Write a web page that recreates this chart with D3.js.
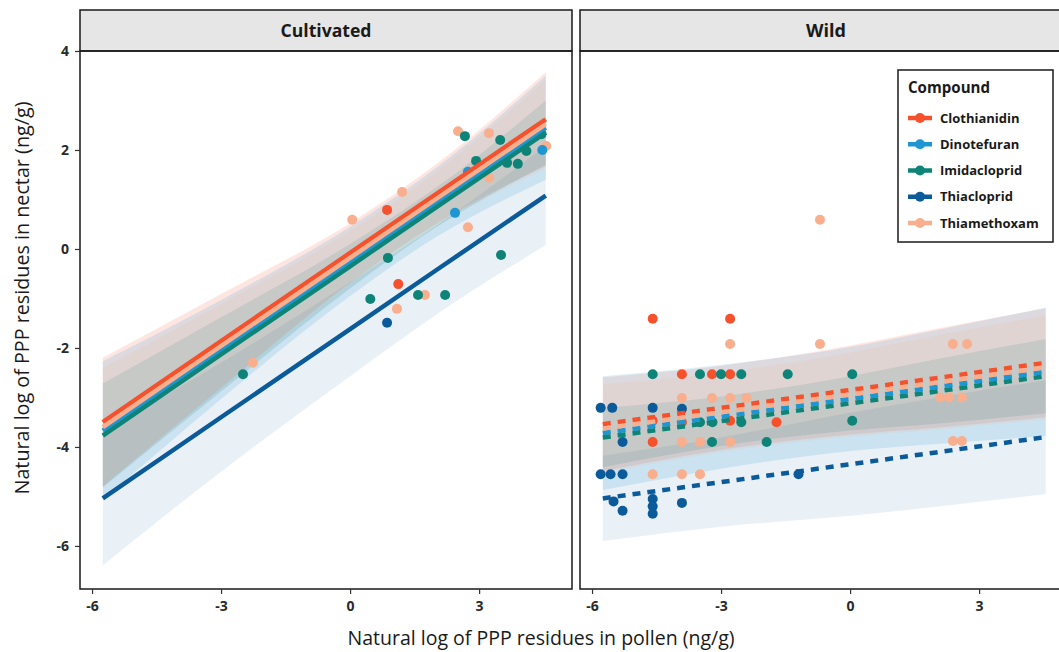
<!DOCTYPE html>
<html><head><meta charset="utf-8">
<script src="https://cdn.jsdelivr.net/npm/d3@7"></script>
<style>body{margin:0;background:#fff}svg{display:block}</style>
</head><body><svg id="c" width="1059" height="652"></svg>
<script>
const compounds = ["Clothianidin","Dinotefuran","Imidacloprid","Thiacloprid","Thiamethoxam"];
const colors = ["#F4512C","#1E96D3","#0E8479","#0B5A9A","#F9AE8E"];
const bandOpacity = [0.14,0.14,0.15,0.09,0.14];
const panels = ["Cultivated","Wild"];
const xTicks = [-6,-3,0,3];
const yTicks = [-6,-4,-2,0,2,4];
const fitX = [-5.75,-3,0,2,4.55];
// fitted values at fitX, compound order
const cultivatedFit = [
  [-3.50,-1.86,-0.08,1.11,2.62],
  [-3.67,-2.03,-0.25,0.94,2.45],
  [-3.77,-2.13,-0.35,0.84,2.35],
  [-5.04,-3.40,-1.62,-0.43,1.08],
  [-3.60,-1.96,-0.18,1.01,2.52]];
const cultivatedCI = [
  [1.30,0.95,0.60,0.60,0.95],
  [1.40,1.00,0.70,0.70,1.05],
  [1.05,0.75,0.45,0.40,0.65],
  [1.35,1.10,0.95,0.90,1.00],
  [1.20,0.85,0.55,0.55,0.90]];
const wildFit = [
  [-3.54,-3.21,-2.85,-2.61,-2.30],
  [-3.72,-3.39,-3.03,-2.79,-2.48],
  [-3.81,-3.48,-3.12,-2.88,-2.57],
  [-5.04,-4.71,-4.35,-4.11,-3.80],
  [-3.63,-3.30,-2.94,-2.70,-2.39]];
const wildCI = [
  [0.95,0.85,0.90,1.00,1.10],
  [1.15,1.05,1.05,1.15,1.30],
  [0.60,0.50,0.55,0.65,0.75],
  [0.86,0.90,1.04,1.10,1.15],
  [0.90,0.80,0.85,0.95,1.05]];
const cultivatedPoints = [
  ["Thiamethoxam",2.51,2.38],["Thiamethoxam",3.23,2.34],["Thiamethoxam",4.23,2.24],["Thiamethoxam",4.56,2.08],
  ["Thiamethoxam",2.74,0.44],["Thiamethoxam",3.23,1.44],["Thiamethoxam",1.21,1.15],["Thiamethoxam",0.05,0.59],
  ["Thiamethoxam",1.74,-0.93],["Thiamethoxam",1.09,-1.21],["Thiamethoxam",-2.26,-2.30],
  ["Imidacloprid",2.67,2.28],["Imidacloprid",3.49,2.20],["Imidacloprid",4.37,2.38],["Imidacloprid",4.45,2.32],
  ["Imidacloprid",4.10,1.98],["Imidacloprid",3.90,1.72],["Imidacloprid",3.65,1.74],["Imidacloprid",2.93,1.78],
  ["Imidacloprid",1.37,0.63],["Imidacloprid",0.74,0.20],["Imidacloprid",0.88,-0.18],["Imidacloprid",3.51,-0.12],
  ["Imidacloprid",1.58,-0.93],["Imidacloprid",2.21,-0.93],["Imidacloprid",0.47,-1.01],["Imidacloprid",-2.49,-2.53],
  ["Dinotefuran",4.07,2.20],["Dinotefuran",4.47,2.00],["Dinotefuran",3.56,1.92],["Dinotefuran",2.74,1.56],["Dinotefuran",2.44,0.73],
  ["Clothianidin",0.86,0.79],["Clothianidin",1.12,-0.71],
  ["Thiacloprid",0.86,-1.49],["Thiacloprid",-3.44,-2.30]];
const wildPoints = [
  ["Thiamethoxam",-0.70,0.59],["Thiamethoxam",-2.79,-1.92],["Thiamethoxam",-0.70,-1.92],["Thiamethoxam",2.39,-1.92],
  ["Thiamethoxam",2.72,-1.92],["Thiamethoxam",-3.91,-3.01],["Thiamethoxam",-3.21,-3.01],["Thiamethoxam",-2.79,-3.01],
  ["Thiamethoxam",-2.41,-3.01],["Thiamethoxam",2.10,-3.00],["Thiamethoxam",2.30,-3.00],["Thiamethoxam",2.60,-3.00],
  ["Thiamethoxam",-3.91,-3.90],["Thiamethoxam",-3.49,-3.90],["Thiamethoxam",-2.79,-3.90],["Thiamethoxam",-4.59,-4.55],
  ["Thiamethoxam",-3.91,-4.55],["Thiamethoxam",-3.49,-4.55],["Thiamethoxam",2.39,-3.88],["Thiamethoxam",2.60,-3.88],
  ["Clothianidin",-4.59,-1.41],["Clothianidin",-2.79,-1.41],["Clothianidin",-3.91,-2.53],["Clothianidin",-3.21,-2.53],
  ["Clothianidin",-2.79,-2.53],["Clothianidin",-4.59,-3.47],["Clothianidin",-3.91,-3.50],["Clothianidin",-2.79,-3.47],
  ["Clothianidin",-1.71,-3.50],["Clothianidin",-4.59,-3.90],
  ["Imidacloprid",-4.59,-2.53],["Imidacloprid",-3.49,-2.53],["Imidacloprid",-3.00,-2.53],["Imidacloprid",-2.53,-2.53],
  ["Imidacloprid",-1.45,-2.53],["Imidacloprid",0.05,-2.53],["Imidacloprid",-3.49,-3.50],["Imidacloprid",-3.20,-3.50],
  ["Imidacloprid",-2.53,-3.50],["Imidacloprid",-3.21,-3.90],["Imidacloprid",-1.94,-3.90],["Imidacloprid",0.05,-3.47],
  ["Thiacloprid",-5.80,-3.21],["Thiacloprid",-5.53,-3.21],["Thiacloprid",-4.59,-3.21],["Thiacloprid",-3.91,-3.23],
  ["Thiacloprid",-5.29,-3.90],["Thiacloprid",-5.80,-4.55],["Thiacloprid",-5.57,-4.55],["Thiacloprid",-5.29,-4.55],
  ["Thiacloprid",-5.29,-5.29],["Thiacloprid",-4.59,-5.05],["Thiacloprid",-4.59,-5.20],["Thiacloprid",-4.59,-5.35],
  ["Thiacloprid",-3.91,-5.13],["Thiacloprid",-1.20,-4.55],["Thiacloprid",-5.50,-5.10]];

const FONT = "'Open Sans', Lato, sans-serif";
const svg = d3.select("#c");
const color = d3.scaleOrdinal(compounds, colors);
const panelX = d3.scaleBand(panels, [80, 1072]).paddingInner(0.016).paddingOuter(0);
const pTop = 51, pBottom = 589;
const y = d3.scaleLinear([-6.87, 4.0], [pBottom, pTop]);
const fmt = d => String(d);

// scale a text's font-size so its rendered width matches a target
function fitWidth(sel, target) {
  const n = sel.node();
  const fs = parseFloat(sel.attr("font-size"));
  const wd = n.getComputedTextLength();
  if (wd > 0) sel.attr("font-size", (fs * target / wd).toFixed(2));
  return sel;
}

const panelData = {
  Cultivated: {fit: cultivatedFit, ci: cultivatedCI, pts: cultivatedPoints, dash: null, labelW: 91},
  Wild: {fit: wildFit, ci: wildCI, pts: wildPoints, dash: "8,7", labelW: 40}
};

panels.forEach((p, pi) => {
  const x0 = panelX(p), w = panelX.bandwidth();
  const x = d3.scaleLinear([-6.28, 5.16], [x0, x0 + w]);
  const g = svg.append("g");
  g.append("rect").attr("x", x0).attr("y", pTop).attr("width", w).attr("height", pBottom - pTop).attr("fill", "#fff");
  // strip
  g.append("rect").attr("x", x0).attr("y", 10).attr("width", w).attr("height", pTop - 10)
    .attr("fill", "#E6E6E6").attr("stroke", "#1a1a1a").attr("stroke-width", 1.5);
  const d = panelData[p];
  fitWidth(g.append("text").attr("x", x0 + w / 2).attr("y", 31).attr("dy", "0.35em").attr("text-anchor", "middle")
    .attr("font-family", FONT).attr("font-weight", "bold").attr("font-size", 16).attr("fill", "#1a1a1a").text(p), d.labelW);

  const area = d3.area().x((v, i) => x(fitX[i])).curve(d3.curveMonotoneX);
  d.fit.forEach((f, ci) => {
    g.append("path").datum(f)
      .attr("d", area.y0((v, i) => y(v - d.ci[ci][i])).y1((v, i) => y(v + d.ci[ci][i])))
      .attr("fill", colors[ci]).attr("fill-opacity", bandOpacity[ci]).attr("stroke", "none");
  });
  g.selectAll("circle.pt").data(d.pts).join("circle")
    .attr("cx", r => x(r[1])).attr("cy", r => y(r[2])).attr("r", 5)
    .attr("fill", r => color(r[0]));
  const line = d3.line().x((v, i) => x(fitX[i])).y(v => y(v));
  d.fit.forEach((f, ci) => {
    g.append("path").datum(f).attr("d", line).attr("fill", "none")
      .attr("stroke", colors[ci]).attr("stroke-width", 4.5)
      .attr("stroke-dasharray", d.dash);
  });
  // panel border
  g.append("rect").attr("x", x0).attr("y", pTop).attr("width", w).attr("height", pBottom - pTop)
    .attr("fill", "none").attr("stroke", "#1a1a1a").attr("stroke-width", 1.5);
  // x axis
  const xa = g.append("g").attr("transform", `translate(0,${pBottom})`)
    .call(d3.axisBottom(x).tickValues(xTicks).tickSize(5).tickPadding(7).tickFormat(fmt));
  xa.select(".domain").remove();
  xa.selectAll("line").attr("stroke", "#333").attr("stroke-width", 1.2);
  xa.selectAll("text").attr("font-family", FONT).attr("font-size", 14).attr("font-weight", "bold").attr("fill", "#2a2a2a");
  if (pi === 0) {
    const ya = g.append("g").attr("transform", `translate(${x0},0)`)
      .call(d3.axisLeft(y).tickValues(yTicks).tickSize(5).tickPadding(6).tickFormat(fmt));
    ya.select(".domain").remove();
    ya.selectAll("line").attr("stroke", "#333").attr("stroke-width", 1.2);
    ya.selectAll("text").attr("font-family", FONT).attr("font-size", 14).attr("font-weight", "bold").attr("fill", "#2a2a2a");
  }
});

// axis titles
fitWidth(svg.append("text").attr("x", 541).attr("y", 638).attr("dy", "0.35em").attr("text-anchor", "middle")
  .attr("font-family", FONT).attr("font-size", 17).attr("fill", "#1a1a1a")
  .text("Natural log of PPP residues in pollen (ng/g)"), 387);
fitWidth(svg.append("text").attr("transform", "translate(22,298) rotate(-90)").attr("dy", "0.35em").attr("text-anchor", "middle")
  .attr("font-family", FONT).attr("font-size", 17).attr("fill", "#1a1a1a")
  .text("Natural log of PPP residues in nectar (ng/g)"), 393);

// legend
const lg = svg.append("g");
lg.append("rect").attr("x", 898).attr("y", 70).attr("width", 155).attr("height", 172)
  .attr("fill", "#fff").attr("stroke", "#1a1a1a").attr("stroke-width", 1.5);
fitWidth(lg.append("text").attr("x", 908).attr("y", 88).attr("dy", "0.35em").attr("font-family", FONT)
  .attr("font-weight", "bold").attr("font-size", 14).attr("fill", "#1a1a1a").text("Compound"), 82);
const ly = d3.scalePoint(compounds, [118, 223]);
compounds.forEach(c => {
  lg.append("line").attr("x1", 908).attr("x2", 932).attr("y1", ly(c)).attr("y2", ly(c))
    .attr("stroke", color(c)).attr("stroke-width", 4.5);
  lg.append("circle").attr("cx", 920).attr("cy", ly(c)).attr("r", 5).attr("fill", color(c));
  lg.append("text").attr("x", 940).attr("y", ly(c)).attr("dy", "0.35em").attr("font-family", FONT)
    .attr("font-size", 13).attr("font-weight", "bold").attr("fill", "#1a1a1a").text(c);
});
</script></body></html>
